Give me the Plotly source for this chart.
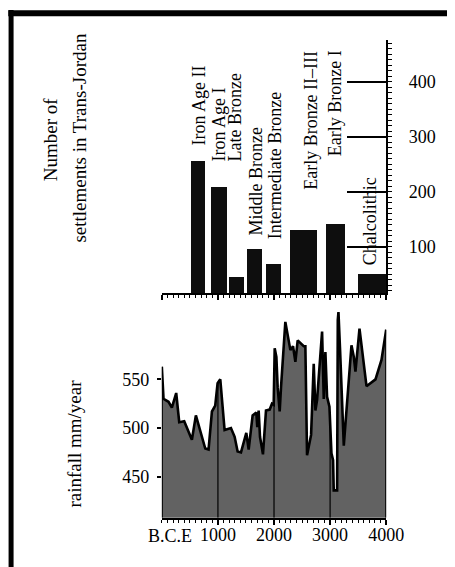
import numpy as np
import plotly.graph_objects as go

# ---------------- data ----------------
periods = ["Iron Age II", "Iron Age I", "Late Bronze", "Middle Bronze",
           "Intermediate Bronze", "Early Bronze II–III", "Early Bronze I", "Chalcolithic"]
period_start = [514, 875, 1196, 1512, 1851, 2274, 2923, 3488]   # years B.C.E
period_end = [768, 1166, 1464, 1780, 2125, 2762, 3256, 4000]
settlements = [255, 209, 45, 96, 69, 130, 141, 50]

rain_year = [0, 30, 119, 179, 256, 310, 399, 536, 607, 774, 833, 893, 952, 994, 1042,
             1119, 1232, 1298, 1351, 1411, 1506, 1548, 1619, 1684, 1702, 1726, 1750,
             1803, 1857, 1923, 1964, 1994, 2012, 2042, 2065, 2101, 2125, 2202, 2292,
             2339, 2381, 2422, 2530, 2559, 2589, 2661, 2708, 2738, 2768, 2857, 2887,
             2916, 2946, 2988, 3024, 3053, 3065, 3125, 3137, 3149, 3178, 3244, 3381,
             3423, 3452, 3524, 3649, 3809, 3916, 4000]
rain_mm = [563, 530, 527, 521, 536, 506, 507, 488, 513, 479, 478, 517, 523, 546, 550,
           498, 500, 491, 476, 475, 495, 478, 513, 516, 501, 518, 491,
           473, 518, 519, 525, 524, 582, 573, 542, 517, 542, 609, 580,
           584, 568, 590, 584, 584, 472, 493, 566, 518, 529, 599, 530,
           578, 532, 522, 474, 467, 436, 436, 611, 619, 580, 482, 585,
           573, 558, 602, 543, 550, 570, 601]

settle_ticks = [100, 200, 300, 400]
rain_ticks = [450, 500, 550]
year_ticks = [1000, 2000, 3000, 4000]
year_grid = [0, 1000, 2000, 3000, 4000]

# ---------------- layout helpers ----------------
OFF = 8                      # page body margin
KX = 1 / 0.964               # horizontal correction measured on the rendered page
W, H = 464, 567 - OFF
FONT = "Liberation Serif, Times New Roman, serif"
def px(x): return (x * KX - OFF) / W
def py(y): return 1 - (y - OFF) / H

top_range = [15.3, 475.8]
bot_range = [408, 625]
x_dom = [px(162), px(387)]

# label placement (centre year, value at the lower end of the rotated text)
label_x = [670, 1027, 1313, 1670, 2009, 2661, 3089, 3714]
label_base = [281, 252, 252, 116, 110, 199, 261, 63]

fig = go.Figure()

centers = [(s + e) / 2 for s, e in zip(period_start, period_end)]
widths = [e - s for s, e in zip(period_start, period_end)]
fig.add_trace(go.Bar(x=centers, y=settlements, width=widths, marker_color="#0e0e0e",
                     marker_line_width=0, xaxis="x", yaxis="y", showlegend=False))

fig.add_trace(go.Scatter(x=rain_year, y=rain_mm, mode="lines", fill="tozeroy",
                         fillcolor="#626262", line=dict(color="black", width=2.6),
                         xaxis="x2", yaxis="y2", showlegend=False))

# vertical lines from the bottom up to the curve at each 1000 years
edge_vals = np.interp(year_grid, rain_year, rain_mm)
vx, vy = [], []
for g, v in zip(year_grid[1:-1], edge_vals[1:-1]):
    vx += [g, g, None]
    vy += [bot_range[0], v, None]
fig.add_trace(go.Scatter(x=vx, y=vy, mode="lines", line=dict(color="black", width=1.2),
                         xaxis="x2", yaxis="y2", showlegend=False))
ex, ey = [], []
for g, v in zip([year_grid[0], year_grid[-1]], [edge_vals[0], edge_vals[-1]]):
    ex += [g, g, None]
    ey += [bot_range[0], v, None]
fig.add_trace(go.Scatter(x=ex, y=ey, mode="lines", line=dict(color="black", width=2),
                         xaxis="x2", yaxis="y2", showlegend=False))

tickfont = dict(family=FONT, size=18, color="black")

fig.update_layout(
    width=W, height=H, margin=dict(l=0, r=0, t=0, b=0),
    paper_bgcolor="white", plot_bgcolor="rgba(0,0,0,0)",
    font=dict(family=FONT, size=18, color="black"),
    bargap=0,
    xaxis=dict(domain=x_dom, range=[0, 4000], anchor="y", showgrid=False, zeroline=False,
               showline=True, linecolor="black", linewidth=2,
               tickvals=year_grid, ticks="outside", ticklen=5, tickwidth=1.5, tickcolor="black",
               showticklabels=False,
               minor=dict(dtick=100, ticks="outside", ticklen=3, tickwidth=1, tickcolor="black")),
    yaxis=dict(domain=[py(293.3), py(40)], range=top_range, side="right", anchor="x",
               showgrid=False, zeroline=False, showline=True, linecolor="black", linewidth=2,
               tickvals=settle_ticks, ticks="inside", ticklen=39, tickwidth=1.5, tickcolor="black",
               tickfont=tickfont, ticklabelstandoff=17,
               minor=dict(dtick=10, ticks="outside", ticklen=4, tickwidth=1.2, tickcolor="black")),
    yaxis3=dict(overlaying="y", side="left", anchor="x", range=top_range, showgrid=False,
                zeroline=False, showline=False, tickvals=settle_ticks[2:], ticks="inside",
                ticklen=22, tickwidth=1.5, tickcolor="black", showticklabels=False),
    yaxis4=dict(overlaying="y", side="left", anchor="x", range=top_range, showgrid=False,
                zeroline=False, showline=False, tickvals=settle_ticks[:2], ticks="inside",
                ticklen=86, tickwidth=1.5, tickcolor="black", showticklabels=False),
    xaxis2=dict(domain=x_dom, range=[0, 4000], anchor="y2", showgrid=False, zeroline=False,
                showline=True, linecolor="black", linewidth=2,
                tickvals=year_ticks, ticks="outside", ticklen=5, tickwidth=1.5, tickcolor="black",
                tickfont=tickfont, ticklabelstandoff=-5,
                minor=dict(dtick=100, ticks="outside", ticklen=3, tickwidth=1, tickcolor="black")),
    yaxis2=dict(domain=[py(517.7), py(306.3)], range=bot_range, anchor="x2", showgrid=False,
                zeroline=False, showline=False, tickvals=rain_ticks, ticks="outside",
                ticklen=4, tickwidth=2, tickcolor="black", tickfont=tickfont,
                ticklabelstandoff=4),
)

ann = []
for name, lx, lb in zip(periods, label_x, label_base):
    ann.append(dict(text=name, x=lx, y=lb, xref="x", yref="y", xanchor="center",
                    yanchor="bottom", textangle=-90, showarrow=False,
                    font=dict(family=FONT, size=18, color="black")))
def title(text, x, y, size=19, angle=-90):
    return dict(text=text, x=px(x), y=py(y), xref="paper", yref="paper",
                xanchor="center", yanchor="middle", textangle=angle, showarrow=False,
                font=dict(family=FONT, size=size, color="black"))
ann += [
    title("Number of", 50, 139),
    title("settlements in Trans-Jordan", 79.5, 138),
    title("rainfall mm/year", 73.5, 444),
    title("B.C.E", 170.5, 536, size=18, angle=0),
]
fig.update_layout(annotations=ann)

fig.update_layout(shapes=[
    dict(type="line", xref="paper", yref="paper", x0=px(8), x1=1.05, y0=py(13.3), y1=py(13.3),
         line=dict(color="black", width=6)),
    dict(type="line", xref="paper", yref="paper", x0=px(10.8), x1=px(10.8), y0=py(10),
         y1=-0.05, line=dict(color="black", width=5)),
])

fig.write_html("out.html")
